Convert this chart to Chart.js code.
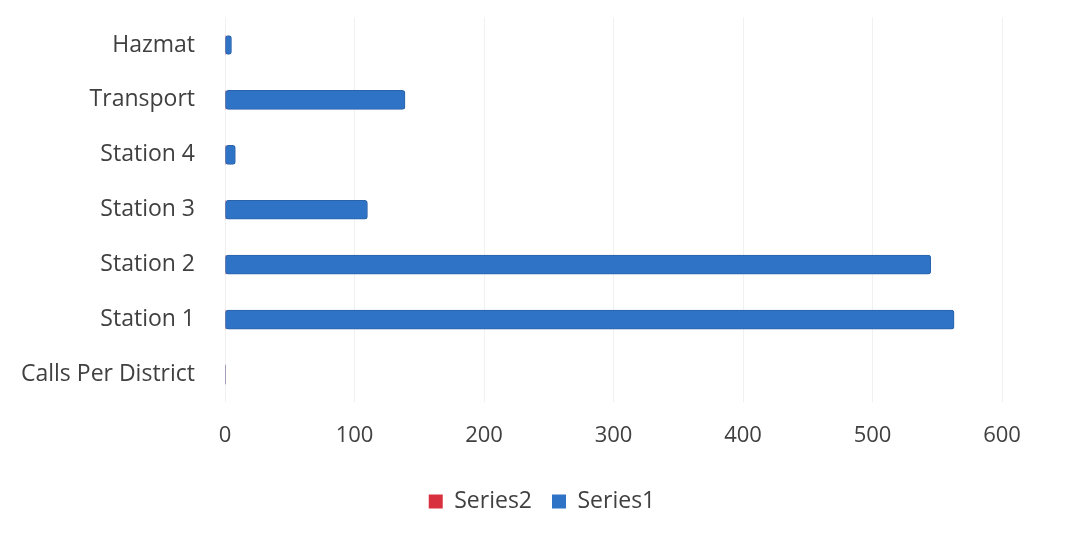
<!DOCTYPE html>
<html>
<head>
<meta charset="utf-8">
<script src="https://cdn.jsdelivr.net/npm/chart.js@4"></script>
<style>
html,body{margin:0;padding:0;background:#fff;}
#wrap{width:1084px;height:547px;position:relative;}
</style>
</head>
<body>
<div id="wrap"><canvas id="c" width="1084" height="547"></canvas></div>
<script>
const categories = ["Calls Per District", "Station 1", "Station 2", "Station 3", "Station 4", "Transport", "Hazmat"];
const series1 = [0, 563, 545, 110, 8, 139, 5];
const series2 = [0, 0, 0, 0, 0, 0, 0];
const xTicks = [0, 100, 200, 300, 400, 500, 600];

const FONT = "'Open Sans', sans-serif";

new Chart(document.getElementById('c'), {
  type: 'bar',
  data: {
    labels: categories,
    datasets: [
      { label: 'Series1', data: series1, backgroundColor: '#2F73C6', borderColor: '#2A62AA',
        borderWidth: ctx => (ctx.raw ? 1 : 0), borderRadius: 3, borderSkipped: false,
        barThickness: 19, grouped: false, order: 1 },
      { label: 'Series2', data: series2, backgroundColor: '#D9303F', borderColor: '#D9303F',
        borderWidth: 0, barThickness: 19, grouped: false, order: 2 }
    ]
  },
  options: {
    indexAxis: 'y',
    responsive: false,
    animation: false,
    devicePixelRatio: 1,
    layout: { padding: { left: 0, right: 0, top: 17.5, bottom: 24 } },
    scales: {
      x: {
        min: 0, max: 600,
        afterBuildTicks: s => { s.ticks = xTicks.map(v => ({ value: v })); },
        border: { display: false },
        grid: { color: '#f1f1f1', drawTicks: false, lineWidth: 1 },
        ticks: { padding: 21, color: '#404040', font: { family: FONT, size: 22 } },
        afterFit: s => { s.height = 68; s.paddingLeft = 0; s.paddingRight = 0; }
      },
      y: {
        reverse: true,
        border: { display: false },
        grid: { display: false, drawTicks: false },
        ticks: { padding: 30, color: '#404040', font: { family: FONT, size: 23 } },
        afterFit: s => { s.width = 225; s.paddingTop = 0; s.paddingBottom = 0; }
      },
      yRight: {
        type: 'category',
        position: 'right',
        labels: categories,
        display: true,
        border: { display: false },
        grid: { display: false, drawTicks: false },
        ticks: { display: false },
        afterFit: s => { s.width = 82; s.paddingTop = 0; s.paddingBottom = 0; }
      }
    },
    plugins: {
      legend: {
        position: 'bottom',
        reverse: true,
        labels: { boxWidth: 14, boxHeight: 14, padding: 20, color: '#404040', font: { family: FONT, size: 23 } }
      },
      tooltip: { enabled: false }
    }
  }
});
</script>
</body>
</html>
